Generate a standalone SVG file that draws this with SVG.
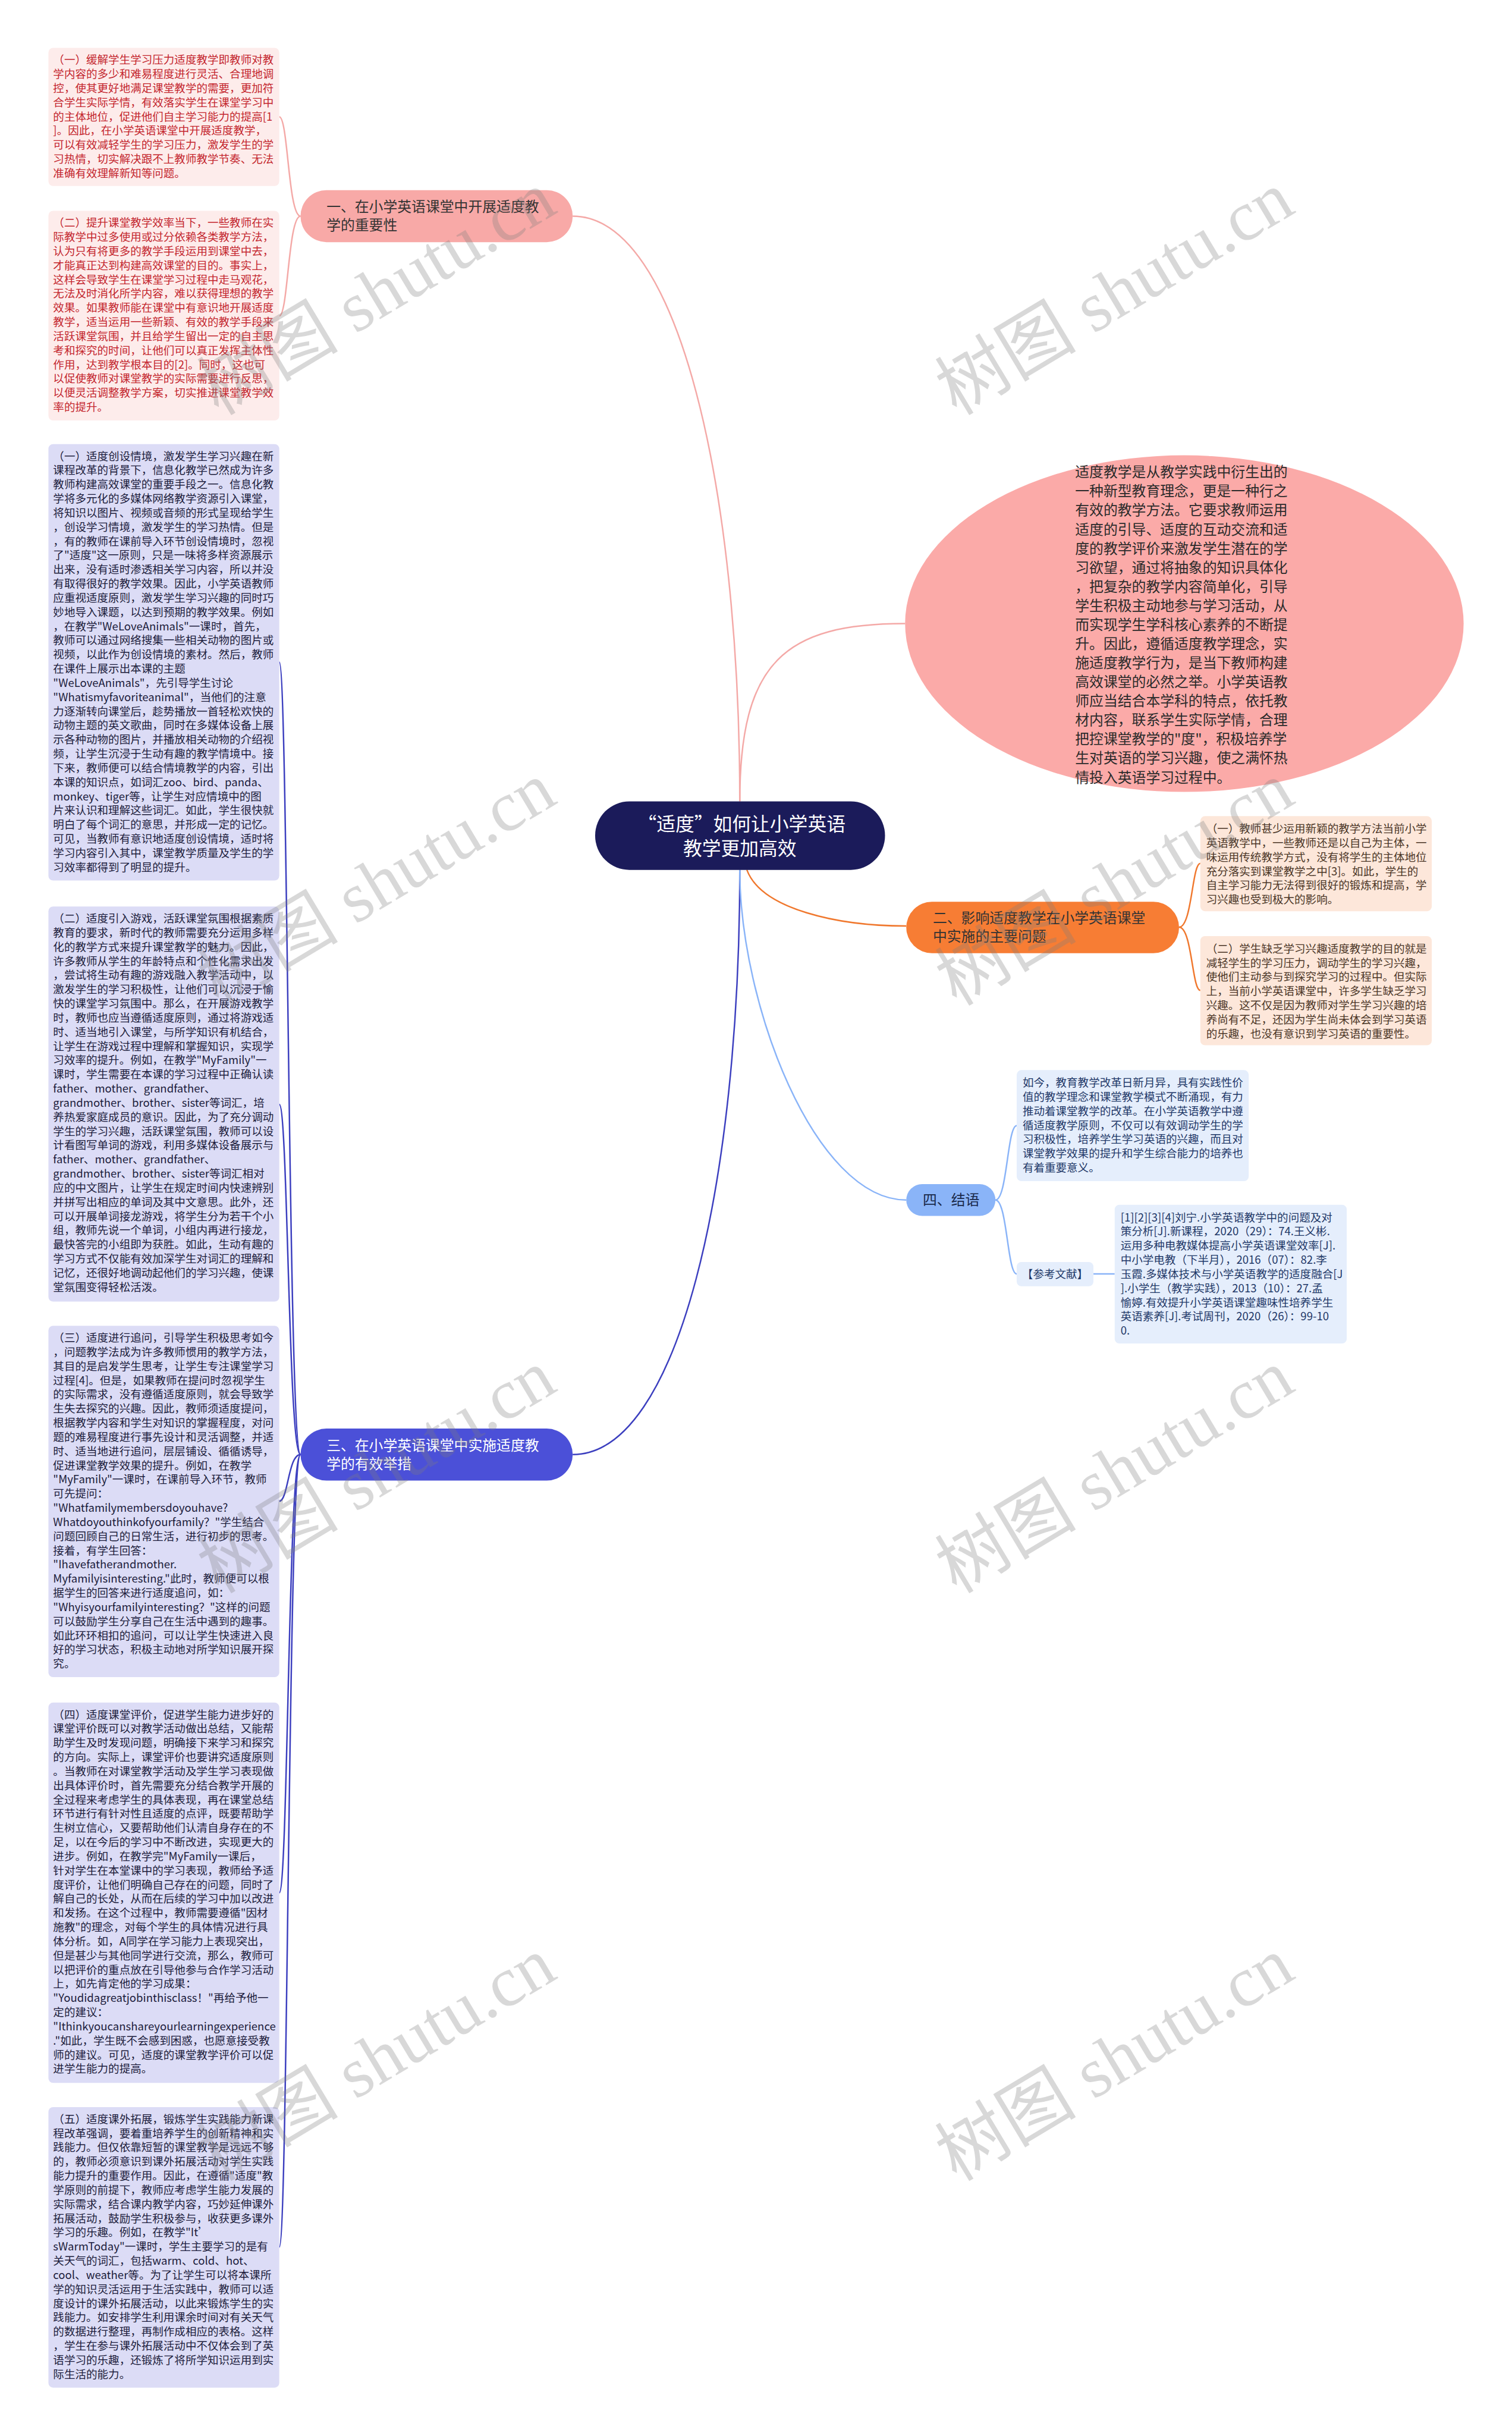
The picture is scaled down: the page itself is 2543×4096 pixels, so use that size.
<svg xmlns="http://www.w3.org/2000/svg" width="2543" height="4096" viewBox="0 0 2543 4096">
<style>
.f{font-family:"Noto Sans CJK SC","Liberation Sans",sans-serif}
.s{font-size:18.7px}
.pk{fill:#c4262e}
.bl{fill:#1c1c3c}
.or{fill:#4b3627}
.cb{fill:#1f3868}
.lab{font-size:24px}
.wm{font-family:"Liberation Serif","Noto Sans CJK SC",serif;font-size:120px;fill:#7f7f7f;fill-opacity:0.3}
.c{fill:none;stroke-width:2.5}
</style>
<rect width="2543" height="4096" fill="#ffffff"/>
<g transform="scale(0.993)">
<g id="connectors">
<path class="c" stroke="#f4a9a7" d="M1253,1357 C1253,830 1150,366 970,366"/>
<path class="c" stroke="#f4a9a7" d="M1253,1357 C1253,1120 1330,1056 1533,1056"/>
<path class="c" stroke="#3c3fbf" d="M1253,1473 C1253,2000 1150,2463 970,2463"/>
<path class="c" stroke="#f0782e" d="M1265,1473 C1290,1540 1420,1568 1535,1568"/>
<path class="c" stroke="#8ab4f8" d="M1253,1473 C1253,1700 1380,2032 1535,2032"/>
<path class="c" stroke="#f4a9a7" d="M509,366 C488,366 488,198 473,198"/>
<path class="c" stroke="#f4a9a7" d="M509,366 C488,366 488,535 473,535"/>
<path class="c" stroke="#3c3fbf" d="M509,2463 C488,2463 488,1121 473,1121"/>
<path class="c" stroke="#3c3fbf" d="M509,2463 C488,2463 488,1870 473,1870"/>
<path class="c" stroke="#3c3fbf" d="M509,2463 C488,2463 488,2542 473,2542"/>
<path class="c" stroke="#3c3fbf" d="M509,2463 C488,2463 488,3205 473,3205"/>
<path class="c" stroke="#3c3fbf" d="M509,2463 C488,2463 488,3805 473,3805"/>
<path class="c" stroke="#f0782e" d="M1997,1570 C2019,1570 2019,1462 2033,1462"/>
<path class="c" stroke="#f0782e" d="M1997,1570 C2019,1570 2019,1677 2033,1677"/>
<path class="c" stroke="#8ab4f8" d="M1686,2032 C1706,2032 1706,1906 1722,1906"/>
<path class="c" stroke="#8ab4f8" d="M1686,2032 C1706,2032 1706,2157 1722,2157"/>
<path class="c" stroke="#8ab4f8" d="M1852,2157 H1888"/>
</g>

<g id="center">
<rect x="1008" y="1357" width="491" height="116" rx="58" fill="#1b1b5a"/>
<text class="f" font-size="32" fill="#ffffff" text-anchor="middle"><tspan x="1256" y="1407">“适度”如何让小学英语</tspan><tspan x="1253" y="1448">教学更加高效</tspan></text>
</g>

<g id="ellipse">
<ellipse cx="2006" cy="1056" rx="473" ry="285" fill="#fbaaa8"/>
<text class="f" font-size="24" fill="#2b2b2b">
<tspan x="1821" y="808">适度教学是从教学实践中衍生出的</tspan>
<tspan x="1821" y="840.3">一种新型教育理念，更是一种行之</tspan>
<tspan x="1821" y="872.6">有效的教学方法。它要求教师运用</tspan>
<tspan x="1821" y="904.9">适度的引导、适度的互动交流和适</tspan>
<tspan x="1821" y="937.2">度的教学评价来激发学生潜在的学</tspan>
<tspan x="1821" y="969.5">习欲望，通过将抽象的知识具体化</tspan>
<tspan x="1821" y="1001.8">，把复杂的教学内容简单化，引导</tspan>
<tspan x="1821" y="1034.1">学生积极主动地参与学习活动，从</tspan>
<tspan x="1821" y="1066.4">而实现学生学科核心素养的不断提</tspan>
<tspan x="1821" y="1098.7">升。因此，遵循适度教学理念，实</tspan>
<tspan x="1821" y="1131">施适度教学行为，是当下教师构建</tspan>
<tspan x="1821" y="1163.3">高效课堂的必然之举。小学英语教</tspan>
<tspan x="1821" y="1195.6">师应当结合本学科的特点，依托教</tspan>
<tspan x="1821" y="1227.9">材内容，联系学生实际学情，合理</tspan>
<tspan x="1821" y="1260.2">把控课堂教学的"度"，积极培养学</tspan>
<tspan x="1821" y="1292.5">生对英语的学习兴趣，使之满怀热</tspan>
<tspan x="1821" y="1324.8">情投入英语学习过程中。</tspan>
</text>
</g>

<g id="branch1">
<rect x="509" y="322" width="461" height="88" rx="44" fill="#f8a9a7"/>
<text class="f lab" fill="#333333"><tspan x="553" y="359">一、在小学英语课堂中开展适度教</tspan><tspan x="553" y="390">学的重要性</tspan></text>
</g>

<g id="branch2">
<rect x="1535" y="1527" width="462" height="87" rx="43.5" fill="#f77d34"/>
<text class="f lab" fill="#333333"><tspan x="1580" y="1563">二、影响适度教学在小学英语课堂</tspan><tspan x="1580" y="1594">中实施的主要问题</tspan></text>
</g>

<g id="branch3">
<rect x="509" y="2419" width="461" height="88" rx="44" fill="#4b50d8"/>
<text class="f lab" fill="#ffffff"><tspan x="553" y="2456">三、在小学英语课堂中实施适度教</tspan><tspan x="553" y="2487">学的有效举措</tspan></text>
</g>

<g id="branch4">
<rect x="1535" y="2005" width="151" height="54" rx="27" fill="#8ab4f8"/>
<text class="f lab" fill="#1a2a4a" x="1563" y="2040">四、结语</text>
</g>

<g id="imp1">
<rect x="82" y="81" width="391" height="234" rx="8" fill="#fdeceb"/>
<text class="f s pk">
<tspan x="90" y="108">（一）缓解学生学习压力适度教学即教师对教</tspan>
<tspan x="90" y="132">学内容的多少和难易程度进行灵活、合理地调</tspan>
<tspan x="90" y="156">控，使其更好地满足课堂教学的需要，更加符</tspan>
<tspan x="90" y="180">合学生实际学情，有效落实学生在课堂学习中</tspan>
<tspan x="90" y="204">的主体地位，促进他们自主学习能力的提高[1</tspan>
<tspan x="90" y="228">]。因此，在小学英语课堂中开展适度教学，</tspan>
<tspan x="90" y="252">可以有效减轻学生的学习压力，激发学生的学</tspan>
<tspan x="90" y="276">习热情，切实解决跟不上教师教学节奏、无法</tspan>
<tspan x="90" y="300">准确有效理解新知等问题。</tspan>
</text>
</g>

<g id="imp2">
<rect x="82" y="357" width="391" height="355" rx="8" fill="#fdeceb"/>
<text class="f s pk">
<tspan x="90" y="384">（二）提升课堂教学效率当下，一些教师在实</tspan>
<tspan x="90" y="408">际教学中过多使用或过分依赖各类教学方法，</tspan>
<tspan x="90" y="432">认为只有将更多的教学手段运用到课堂中去，</tspan>
<tspan x="90" y="456">才能真正达到构建高效课堂的目的。事实上，</tspan>
<tspan x="90" y="480">这样会导致学生在课堂学习过程中走马观花，</tspan>
<tspan x="90" y="504">无法及时消化所学内容，难以获得理想的教学</tspan>
<tspan x="90" y="528">效果。如果教师能在课堂中有意识地开展适度</tspan>
<tspan x="90" y="552">教学，适当运用一些新颖、有效的教学手段来</tspan>
<tspan x="90" y="576">活跃课堂氛围，并且给学生留出一定的自主思</tspan>
<tspan x="90" y="600">考和探究的时间，让他们可以真正发挥主体性</tspan>
<tspan x="90" y="624">作用，达到教学根本目的[2]。同时，这也可</tspan>
<tspan x="90" y="648">以促使教师对课堂教学的实际需要进行反思，</tspan>
<tspan x="90" y="672">以便灵活调整教学方案，切实推进课堂教学效</tspan>
<tspan x="90" y="696">率的提升。</tspan>
</text>
</g>

<g id="m1">
<rect x="82" y="752" width="391" height="739" rx="8" fill="#dcdcf6"/>
<text class="f s bl">
<tspan x="90" y="779">（一）适度创设情境，激发学生学习兴趣在新</tspan>
<tspan x="90" y="803">课程改革的背景下，信息化教学已然成为许多</tspan>
<tspan x="90" y="827">教师构建高效课堂的重要手段之一。信息化教</tspan>
<tspan x="90" y="851">学将多元化的多媒体网络教学资源引入课堂，</tspan>
<tspan x="90" y="875">将知识以图片、视频或音频的形式呈现给学生</tspan>
<tspan x="90" y="899">，创设学习情境，激发学生的学习热情。但是</tspan>
<tspan x="90" y="923">，有的教师在课前导入环节创设情境时，忽视</tspan>
<tspan x="90" y="947">了"适度"这一原则，只是一味将多样资源展示</tspan>
<tspan x="90" y="971">出来，没有适时渗透相关学习内容，所以并没</tspan>
<tspan x="90" y="995">有取得很好的教学效果。因此，小学英语教师</tspan>
<tspan x="90" y="1019">应重视适度原则，激发学生学习兴趣的同时巧</tspan>
<tspan x="90" y="1043">妙地导入课题，以达到预期的教学效果。例如</tspan>
<tspan x="90" y="1067">，在教学"WeLoveAnimals"一课时，首先，</tspan>
<tspan x="90" y="1091">教师可以通过网络搜集一些相关动物的图片或</tspan>
<tspan x="90" y="1115">视频，以此作为创设情境的素材。然后，教师</tspan>
<tspan x="90" y="1139">在课件上展示出本课的主题</tspan>
<tspan x="90" y="1163">"WeLoveAnimals"，先引导学生讨论</tspan>
<tspan x="90" y="1187">"Whatismyfavoriteanimal"，当他们的注意</tspan>
<tspan x="90" y="1211">力逐渐转向课堂后，趁势播放一首轻松欢快的</tspan>
<tspan x="90" y="1235">动物主题的英文歌曲，同时在多媒体设备上展</tspan>
<tspan x="90" y="1259">示各种动物的图片，并播放相关动物的介绍视</tspan>
<tspan x="90" y="1283">频，让学生沉浸于生动有趣的教学情境中。接</tspan>
<tspan x="90" y="1307">下来，教师便可以结合情境教学的内容，引出</tspan>
<tspan x="90" y="1331">本课的知识点，如词汇zoo、bird、panda、</tspan>
<tspan x="90" y="1355">monkey、tiger等，让学生对应情境中的图</tspan>
<tspan x="90" y="1379">片来认识和理解这些词汇。如此，学生很快就</tspan>
<tspan x="90" y="1403">明白了每个词汇的意思，并形成一定的记忆。</tspan>
<tspan x="90" y="1427">可见，当教师有意识地适度创设情境，适时将</tspan>
<tspan x="90" y="1451">学习内容引入其中，课堂教学质量及学生的学</tspan>
<tspan x="90" y="1475">习效率都得到了明显的提升。</tspan>
</text>
</g>

<g id="m2">
<rect x="82" y="1535" width="391" height="669" rx="8" fill="#dcdcf6"/>
<text class="f s bl">
<tspan x="90" y="1562">（二）适度引入游戏，活跃课堂氛围根据素质</tspan>
<tspan x="90" y="1586">教育的要求，新时代的教师需要充分运用多样</tspan>
<tspan x="90" y="1610">化的教学方式来提升课堂教学的魅力。因此，</tspan>
<tspan x="90" y="1634">许多教师从学生的年龄特点和个性化需求出发</tspan>
<tspan x="90" y="1658">，尝试将生动有趣的游戏融入教学活动中，以</tspan>
<tspan x="90" y="1682">激发学生的学习积极性，让他们可以沉浸于愉</tspan>
<tspan x="90" y="1706">快的课堂学习氛围中。那么，在开展游戏教学</tspan>
<tspan x="90" y="1730">时，教师也应当遵循适度原则，通过将游戏适</tspan>
<tspan x="90" y="1754">时、适当地引入课堂，与所学知识有机结合，</tspan>
<tspan x="90" y="1778">让学生在游戏过程中理解和掌握知识，实现学</tspan>
<tspan x="90" y="1802">习效率的提升。例如，在教学"MyFamily"一</tspan>
<tspan x="90" y="1826">课时，学生需要在本课的学习过程中正确认读</tspan>
<tspan x="90" y="1850">father、mother、grandfather、</tspan>
<tspan x="90" y="1874">grandmother、brother、sister等词汇，培</tspan>
<tspan x="90" y="1898">养热爱家庭成员的意识。因此，为了充分调动</tspan>
<tspan x="90" y="1922">学生的学习兴趣，活跃课堂氛围，教师可以设</tspan>
<tspan x="90" y="1946">计看图写单词的游戏，利用多媒体设备展示与</tspan>
<tspan x="90" y="1970">father、mother、grandfather、</tspan>
<tspan x="90" y="1994">grandmother、brother、sister等词汇相对</tspan>
<tspan x="90" y="2018">应的中文图片，让学生在规定时间内快速辨别</tspan>
<tspan x="90" y="2042">并拼写出相应的单词及其中文意思。此外，还</tspan>
<tspan x="90" y="2066">可以开展单词接龙游戏，将学生分为若干个小</tspan>
<tspan x="90" y="2090">组，教师先说一个单词，小组内再进行接龙，</tspan>
<tspan x="90" y="2114">最快答完的小组即为获胜。如此，生动有趣的</tspan>
<tspan x="90" y="2138">学习方式不仅能有效加深学生对词汇的理解和</tspan>
<tspan x="90" y="2162">记忆，还很好地调动起他们的学习兴趣，使课</tspan>
<tspan x="90" y="2186">堂氛围变得轻松活泼。</tspan>
</text>
</g>

<g id="m3">
<rect x="82" y="2245" width="391" height="595" rx="8" fill="#dcdcf6"/>
<text class="f s bl">
<tspan x="90" y="2272">（三）适度进行追问，引导学生积极思考如今</tspan>
<tspan x="90" y="2296">，问题教学法成为许多教师惯用的教学方法，</tspan>
<tspan x="90" y="2320">其目的是启发学生思考，让学生专注课堂学习</tspan>
<tspan x="90" y="2344">过程[4]。但是，如果教师在提问时忽视学生</tspan>
<tspan x="90" y="2368">的实际需求，没有遵循适度原则，就会导致学</tspan>
<tspan x="90" y="2392">生失去探究的兴趣。因此，教师须适度提问，</tspan>
<tspan x="90" y="2416">根据教学内容和学生对知识的掌握程度，对问</tspan>
<tspan x="90" y="2440">题的难易程度进行事先设计和灵活调整，并适</tspan>
<tspan x="90" y="2464">时、适当地进行追问，层层铺设、循循诱导，</tspan>
<tspan x="90" y="2488">促进课堂教学效果的提升。例如，在教学</tspan>
<tspan x="90" y="2512">"MyFamily"一课时，在课前导入环节，教师</tspan>
<tspan x="90" y="2536">可先提问：</tspan>
<tspan x="90" y="2560">"Whatfamilymembersdoyouhave?</tspan>
<tspan x="90" y="2584">Whatdoyouthinkofyourfamily？"学生结合</tspan>
<tspan x="90" y="2608">问题回顾自己的日常生活，进行初步的思考。</tspan>
<tspan x="90" y="2632">接着，有学生回答：</tspan>
<tspan x="90" y="2656">"Ihavefatherandmother.</tspan>
<tspan x="90" y="2680">Myfamilyisinteresting."此时，教师便可以根</tspan>
<tspan x="90" y="2704">据学生的回答来进行适度追问，如：</tspan>
<tspan x="90" y="2728">"Whyisyourfamilyinteresting？"这样的问题</tspan>
<tspan x="90" y="2752">可以鼓励学生分享自己在生活中遇到的趣事。</tspan>
<tspan x="90" y="2776">如此环环相扣的追问，可以让学生快速进入良</tspan>
<tspan x="90" y="2800">好的学习状态，积极主动地对所学知识展开探</tspan>
<tspan x="90" y="2824">究。</tspan>
</text>
</g>

<g id="m4">
<rect x="82" y="2883" width="391" height="644" rx="8" fill="#dcdcf6"/>
<text class="f s bl">
<tspan x="90" y="2910">（四）适度课堂评价，促进学生能力进步好的</tspan>
<tspan x="90" y="2934">课堂评价既可以对教学活动做出总结，又能帮</tspan>
<tspan x="90" y="2958">助学生及时发现问题，明确接下来学习和探究</tspan>
<tspan x="90" y="2982">的方向。实际上，课堂评价也要讲究适度原则</tspan>
<tspan x="90" y="3006">。当教师在对课堂教学活动及学生学习表现做</tspan>
<tspan x="90" y="3030">出具体评价时，首先需要充分结合教学开展的</tspan>
<tspan x="90" y="3054">全过程来考虑学生的具体表现，再在课堂总结</tspan>
<tspan x="90" y="3078">环节进行有针对性且适度的点评，既要帮助学</tspan>
<tspan x="90" y="3102">生树立信心，又要帮助他们认清自身存在的不</tspan>
<tspan x="90" y="3126">足，以在今后的学习中不断改进，实现更大的</tspan>
<tspan x="90" y="3150">进步。例如，在教学完"MyFamily一课后，</tspan>
<tspan x="90" y="3174">针对学生在本堂课中的学习表现，教师给予适</tspan>
<tspan x="90" y="3198">度评价，让他们明确自己存在的问题，同时了</tspan>
<tspan x="90" y="3222">解自己的长处，从而在后续的学习中加以改进</tspan>
<tspan x="90" y="3246">和发扬。在这个过程中，教师需要遵循"因材</tspan>
<tspan x="90" y="3270">施教"的理念，对每个学生的具体情况进行具</tspan>
<tspan x="90" y="3294">体分析。如，A同学在学习能力上表现突出，</tspan>
<tspan x="90" y="3318">但是甚少与其他同学进行交流，那么，教师可</tspan>
<tspan x="90" y="3342">以把评价的重点放在引导他参与合作学习活动</tspan>
<tspan x="90" y="3366">上，如先肯定他的学习成果：</tspan>
<tspan x="90" y="3390">"Youdidagreatjobinthisclass！"再给予他一</tspan>
<tspan x="90" y="3414">定的建议：</tspan>
<tspan x="90" y="3438">"Ithinkyoucanshareyourlearningexperience</tspan>
<tspan x="90" y="3462">."如此，学生既不会感到困惑，也愿意接受教</tspan>
<tspan x="90" y="3486">师的建议。可见，适度的课堂教学评价可以促</tspan>
<tspan x="90" y="3510">进学生能力的提高。</tspan>
</text>
</g>

<g id="m5">
<rect x="82" y="3568" width="391" height="475" rx="8" fill="#dcdcf6"/>
<text class="f s bl">
<tspan x="90" y="3595">（五）适度课外拓展，锻炼学生实践能力新课</tspan>
<tspan x="90" y="3619">程改革强调，要着重培养学生的创新精神和实</tspan>
<tspan x="90" y="3643">践能力。但仅依靠短暂的课堂教学是远远不够</tspan>
<tspan x="90" y="3667">的，教师必须意识到课外拓展活动对学生实践</tspan>
<tspan x="90" y="3691">能力提升的重要作用。因此，在遵循"适度"教</tspan>
<tspan x="90" y="3715">学原则的前提下，教师应考虑学生能力发展的</tspan>
<tspan x="90" y="3739">实际需求，结合课内教学内容，巧妙延伸课外</tspan>
<tspan x="90" y="3763">拓展活动，鼓励学生积极参与，收获更多课外</tspan>
<tspan x="90" y="3787">学习的乐趣。例如，在教学"It’</tspan>
<tspan x="90" y="3811">sWarmToday"一课时，学生主要学习的是有</tspan>
<tspan x="90" y="3835">关天气的词汇，包括warm、cold、hot、</tspan>
<tspan x="90" y="3859">cool、weather等。为了让学生可以将本课所</tspan>
<tspan x="90" y="3883">学的知识灵活运用于生活实践中，教师可以适</tspan>
<tspan x="90" y="3907">度设计的课外拓展活动，以此来锻炼学生的实</tspan>
<tspan x="90" y="3931">践能力。如安排学生利用课余时间对有关天气</tspan>
<tspan x="90" y="3955">的数据进行整理，再制作成相应的表格。这样</tspan>
<tspan x="90" y="3979">，学生在参与课外拓展活动中不仅体会到了英</tspan>
<tspan x="90" y="4003">语学习的乐趣，还锻炼了将所学知识运用到实</tspan>
<tspan x="90" y="4027">际生活的能力。</tspan>
</text>
</g>

<g id="p1">
<rect x="2033" y="1382" width="392" height="161" rx="8" fill="#fde7da"/>
<text class="f s or">
<tspan x="2043" y="1410">（一）教师甚少运用新颖的教学方法当前小学</tspan>
<tspan x="2043" y="1434">英语教学中，一些教师还是以自己为主体，一</tspan>
<tspan x="2043" y="1458">味运用传统教学方式，没有将学生的主体地位</tspan>
<tspan x="2043" y="1482">充分落实到课堂教学之中[3]。如此，学生的</tspan>
<tspan x="2043" y="1506">自主学习能力无法得到很好的锻炼和提高，学</tspan>
<tspan x="2043" y="1530">习兴趣也受到极大的影响。</tspan>
</text>
</g>

<g id="p2">
<rect x="2033" y="1585" width="392" height="185" rx="8" fill="#fde7da"/>
<text class="f s or">
<tspan x="2043" y="1613">（二）学生缺乏学习兴趣适度教学的目的就是</tspan>
<tspan x="2043" y="1637">减轻学生的学习压力，调动学生的学习兴趣，</tspan>
<tspan x="2043" y="1661">使他们主动参与到探究学习的过程中。但实际</tspan>
<tspan x="2043" y="1685">上，当前小学英语课堂中，许多学生缺乏学习</tspan>
<tspan x="2043" y="1709">兴趣。这不仅是因为教师对学生学习兴趣的培</tspan>
<tspan x="2043" y="1733">养尚有不足，还因为学生尚未体会到学习英语</tspan>
<tspan x="2043" y="1757">的乐趣，也没有意识到学习英语的重要性。</tspan>
</text>
</g>

<g id="c1">
<rect x="1722" y="1812" width="393" height="188" rx="8" fill="#e5eefc"/>
<text class="f s cb">
<tspan x="1732" y="1840">如今，教育教学改革日新月异，具有实践性价</tspan>
<tspan x="1732" y="1864">值的教学理念和课堂教学模式不断涌现，有力</tspan>
<tspan x="1732" y="1888">推动着课堂教学的改革。在小学英语教学中遵</tspan>
<tspan x="1732" y="1912">循适度教学原则，不仅可以有效调动学生的学</tspan>
<tspan x="1732" y="1936">习积极性，培养学生学习英语的兴趣，而且对</tspan>
<tspan x="1732" y="1960">课堂教学效果的提升和学生综合能力的培养也</tspan>
<tspan x="1732" y="1984">有着重要意义。</tspan>
</text>
</g>

<g id="refLabel">
<rect x="1722" y="2137" width="130" height="41" rx="8" fill="#e5eefc"/>
<text class="f s cb" x="1787" y="2164" text-anchor="middle">【参考文献】</text>
</g>

<g id="refs">
<rect x="1888" y="2040" width="393" height="235" rx="8" fill="#e5eefc"/>
<text class="f s cb">
<tspan x="1898" y="2068">[1][2][3][4]刘宁.小学英语教学中的问题及对</tspan>
<tspan x="1898" y="2092">策分析[J].新课程，2020（29）：74.王义彬.</tspan>
<tspan x="1898" y="2116">运用多种电教媒体提高小学英语课堂效率[J].</tspan>
<tspan x="1898" y="2140">中小学电教（下半月），2016（07）：82.李</tspan>
<tspan x="1898" y="2164">玉霞.多媒体技术与小学英语教学的适度融合[J</tspan>
<tspan x="1898" y="2188">].小学生（教学实践），2013（10）：27.孟</tspan>
<tspan x="1898" y="2212">愉婷.有效提升小学英语课堂趣味性培养学生</tspan>
<tspan x="1898" y="2236">英语素养[J].考试周刊，2020（26）：99-10</tspan>
<tspan x="1898" y="2260">0.</tspan>
</text>
</g>

<g id="watermarks">
<text class="wm" transform="translate(370,705) rotate(-31)">树图 shutu.cn</text>
<text class="wm" transform="translate(370,1705) rotate(-31)">树图 shutu.cn</text>
<text class="wm" transform="translate(370,2700) rotate(-31)">树图 shutu.cn</text>
<text class="wm" transform="translate(370,3695) rotate(-31)">树图 shutu.cn</text>
<text class="wm" transform="translate(1620,705) rotate(-31)">树图 shutu.cn</text>
<text class="wm" transform="translate(1620,1705) rotate(-31)">树图 shutu.cn</text>
<text class="wm" transform="translate(1620,2700) rotate(-31)">树图 shutu.cn</text>
<text class="wm" transform="translate(1620,3695) rotate(-31)">树图 shutu.cn</text>
</g>
</g>
</svg>
